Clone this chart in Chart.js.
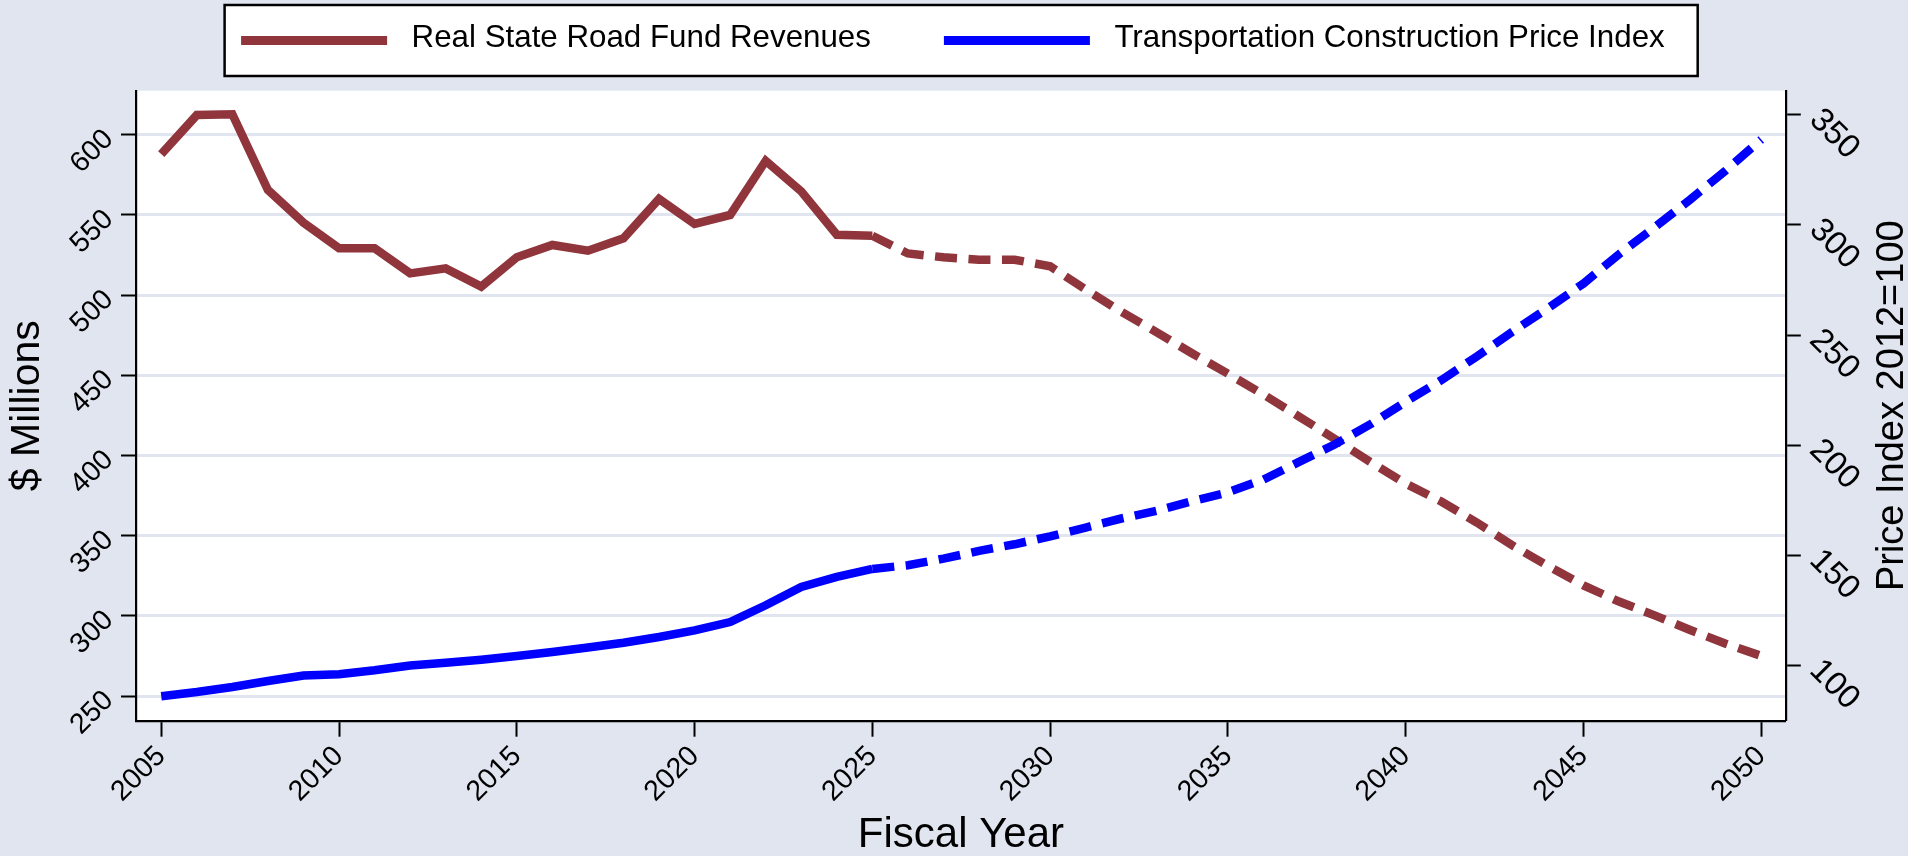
<!DOCTYPE html>
<html>
<head>
<meta charset="utf-8">
<script src="https://cdn.jsdelivr.net/npm/chart.js@4/dist/chart.umd.min.js"></script>
<style>
  html, body { margin: 0; padding: 0; background: #e0e5f0; }
  #wrap { position: relative; width: 1908px; height: 856px; }
  canvas { display: block; }
</style>
</head>
<body>
<div id="wrap"><canvas id="chart" width="1908" height="856" style="width:1908px;height:856px"></canvas></div>
<script>
// ---------------- data ----------------
const years = [2005, 2006, 2007, 2008, 2009, 2010, 2011, 2012, 2013, 2014,
               2015, 2016, 2017, 2018, 2019, 2020, 2021, 2022, 2023, 2024,
               2025, 2026, 2027, 2028, 2029, 2030, 2031, 2032, 2033, 2034,
               2035, 2036, 2037, 2038, 2039, 2040, 2041, 2042, 2043, 2044,
               2045, 2046, 2047, 2048, 2049, 2050];

// Real State Road Fund Revenues ($ Millions, left axis)
const roadFundRevenues = [588.0, 612.3, 612.8, 565.6, 545.2, 529.2, 529.3, 513.6, 516.7, 505.3,
                          523.6, 531.3, 527.7, 535.4, 560.0, 544.4, 550.0, 583.8, 564.7, 537.7,
                          537.0, 526.0, 523.6, 522.1, 522.1, 518.0, 503.5, 489.7, 476.8, 463.6,
                          451.0, 438.0, 424.3, 410.4, 396.0, 382.5, 371.3, 358.2, 343.9, 331.1,
                          319.0, 308.9, 300.3, 291.2, 282.6, 275.0];

// Transportation Construction Price Index (2012=100, right axis)
const priceIndex = [86.0, 87.9, 90.2, 92.9, 95.4, 96.0, 97.8, 100.0, 101.2, 102.6,
                    104.3, 106.1, 108.1, 110.3, 112.9, 115.9, 119.7, 127.3, 135.6, 140.2,
                    143.8, 145.5, 148.5, 152.0, 155.0, 158.6, 162.6, 166.7, 170.2, 174.6,
                    178.6, 184.4, 192.4, 200.3, 209.4, 219.7, 229.5, 240.3, 251.5, 262.2,
                    273.4, 286.7, 298.9, 311.5, 324.7, 338.8];

const seriesNames = ['Real State Road Fund Revenues', 'Transportation Construction Price Index'];
const xTickValues = [2005, 2010, 2015, 2020, 2025, 2030, 2035, 2040, 2045, 2050];
const leftTickValues = [250, 300, 350, 400, 450, 500, 550, 600];
const rightTickValues = [100, 150, 200, 250, 300, 350];
const projectionStartYear = 2025;
const xAxisTitle = 'Fiscal Year';
const leftAxisTitle = '$ Millions';
const rightAxisTitle = 'Price Index 2012=100';

// ---------------- styles ----------------
const FONT = '"Liberation Sans", Arial, Helvetica, sans-serif';
const BG = '#e0e5f0';
const GRID = '#e0e5f0';
const RED = 'rgb(144,53,59)';
const BLUE = 'rgb(0,0,255)';
const DASH = [22, 11.5];

Chart.defaults.font.family = FONT;
Chart.defaults.color = '#000';

const toPoints = (vals) => years.map((yr, i) => ({ x: yr, y: vals[i] }));
const projectedDash = (ctx) => (ctx.p0.parsed.x >= projectionStartYear ? DASH : undefined);

// background: grey graph region, white plot region
const backgroundPlugin = {
  id: 'regions',
  beforeDraw(chart) {
    const { ctx, chartArea: a } = chart;
    ctx.save();
    ctx.fillStyle = BG;
    ctx.fillRect(0, 0, chart.width, chart.height);
    ctx.fillStyle = '#ffffff';
    ctx.fillRect(a.left, a.top, a.right - a.left, a.bottom - a.top);
    ctx.restore();
  }
};

// boxed legend at the top, built from the datasets
const boxedLegendPlugin = {
  id: 'boxedLegend',
  afterDraw(chart) {
    const ctx = chart.ctx;
    ctx.save();
    ctx.font = '31.3px ' + FONT;
    const boxLeft = 224.6, boxTop = 5, boxBottom = 76;
    const inset = 16.5, swatchW = 146, swatchH = 9, textGap = 24.5, itemGap = 73, rightPad = 33;
    const lineY = 40.5, textBase = 46.7;
    let x = boxLeft + inset;
    const items = chart.data.datasets.map(ds => ({ text: ds.label, color: ds.borderColor }));
    const layout = items.map((it, i) => {
      if (i > 0) x += itemGap;
      const sx = x; x += swatchW + textGap;
      const tx = x; x += ctx.measureText(it.text).width;
      return { sx, tx };
    });
    const boxRight = x + rightPad;
    ctx.fillStyle = '#ffffff';
    ctx.fillRect(boxLeft, boxTop, boxRight - boxLeft, boxBottom - boxTop);
    ctx.lineWidth = 2.5;
    ctx.strokeStyle = '#000';
    ctx.strokeRect(boxLeft, boxTop, boxRight - boxLeft, boxBottom - boxTop);
    items.forEach((it, i) => {
      ctx.fillStyle = it.color;
      ctx.fillRect(layout[i].sx, lineY - swatchH / 2, swatchW, swatchH);
      ctx.fillStyle = '#000';
      ctx.textAlign = 'left';
      ctx.textBaseline = 'alphabetic';
      ctx.fillText(it.text, layout[i].tx, textBase);
    });
    ctx.restore();
  }
};

// right axis title, reading bottom-to-top
const rightTitlePlugin = {
  id: 'rightTitle',
  afterDraw(chart) {
    const { ctx, chartArea: a } = chart;
    ctx.save();
    ctx.translate(1892.5, (a.top + a.bottom) / 2);
    ctx.rotate(-Math.PI / 2);
    ctx.font = '38px ' + FONT;
    ctx.fillStyle = '#000';
    ctx.textAlign = 'center';
    ctx.textBaseline = 'middle';
    ctx.fillText(rightAxisTitle, 0, 0);
    ctx.restore();
  }
};

new Chart(document.getElementById('chart'), {
  type: 'line',
  data: {
    datasets: [
      {
        label: seriesNames[0],
        data: toPoints(roadFundRevenues),
        yAxisID: 'y',
        borderColor: RED,
        backgroundColor: RED,
        borderWidth: 8.5,
        borderJoinStyle: 'miter',
        borderCapStyle: 'butt',
        pointRadius: 0,
        tension: 0,
        order: 2,
        segment: { borderDash: projectedDash }
      },
      {
        label: seriesNames[1],
        data: toPoints(priceIndex),
        yAxisID: 'y1',
        borderColor: BLUE,
        backgroundColor: BLUE,
        borderWidth: 8.5,
        borderJoinStyle: 'miter',
        borderCapStyle: 'butt',
        pointRadius: 0,
        tension: 0,
        order: 1,
        segment: { borderDash: projectedDash }
      }
    ]
  },
  options: {
    responsive: false,
    animation: false,
    devicePixelRatio: 1,
    events: [],
    layout: { padding: { top: 90.7, left: 0, right: 0, bottom: 0 } },
    plugins: {
      legend: { display: false },
      tooltip: { enabled: false },
      title: { display: false }
    },
    scales: {
      x: {
        type: 'linear',
        min: 2004.29,
        max: 2050.69,
        afterBuildTicks: (s) => { s.ticks = xTickValues.map(v => ({ value: v })); },
        afterFit: (s) => { s.height = 135.3; },
        ticks: {
          autoSkip: false,
          minRotation: 45,
          maxRotation: 45,
          padding: 3,
          color: '#000',
          font: { size: 28.5 },
          callback: (v) => String(v)
        },
        grid: { drawOnChartArea: false, drawTicks: true, tickLength: 16, tickColor: '#000', tickWidth: 2 },
        border: { display: true, color: '#000', width: 2.2 },
        title: {
          display: true, text: xAxisTitle, color: '#000',
          font: { size: 42, lineHeight: 1 }, padding: { top: 0, bottom: 0 }
        }
      },
      y: {
        position: 'left',
        min: 234.6,
        max: 627.5,
        afterBuildTicks: (s) => { s.ticks = leftTickValues.map(v => ({ value: v })); },
        afterFit: (s) => { s.width = 136; },
        ticks: {
          autoSkip: false,
          minRotation: 45,
          maxRotation: 45,
          padding: 12,
          color: '#000',
          font: { size: 28.5 },
          callback: (v) => String(v)
        },
        grid: { color: GRID, lineWidth: 3, drawTicks: true, tickLength: 15, tickColor: '#000', tickWidth: 2 },
        border: { display: true, color: '#000', width: 2.2 },
        title: {
          display: true, text: leftAxisTitle, color: '#000',
          font: { size: 41, lineHeight: 1 }, padding: { top: 7.5, bottom: 0 }
        }
      },
      y1: {
        position: 'right',
        min: 74.9,
        max: 360.94,
        afterBuildTicks: (s) => { s.ticks = rightTickValues.map(v => ({ value: v })); },
        afterFit: (s) => { s.width = 122.2; },
        ticks: {
          autoSkip: false,
          minRotation: -45,
          maxRotation: -45,
          padding: 14,
          color: '#000',
          font: { size: 33 },
          callback: (v) => String(v)
        },
        grid: { drawOnChartArea: false, drawTicks: true, tickLength: 15, tickColor: '#000', tickWidth: 2 },
        border: { display: true, color: '#000', width: 2.2 },
        title: { display: false }
      }
    }
  },
  plugins: [backgroundPlugin, boxedLegendPlugin, rightTitlePlugin]
});
</script>
</body>
</html>
